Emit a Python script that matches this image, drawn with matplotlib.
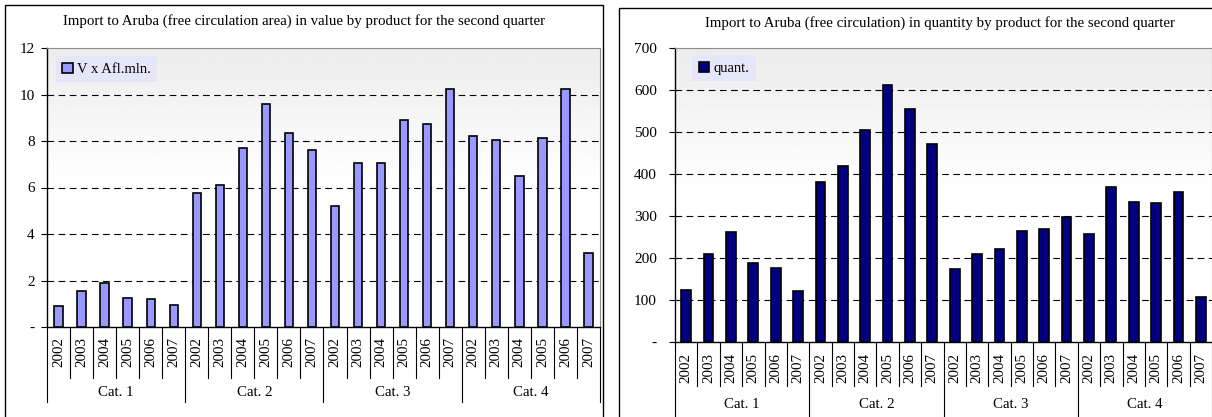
import matplotlib
matplotlib.use("Agg")
import matplotlib.pyplot as plt
import numpy as np
from matplotlib import transforms
from matplotlib.patches import Rectangle
from matplotlib.lines import Line2D

plt.rcParams['font.family'] = ['Liberation Serif', 'DejaVu Serif']

categories = ["Cat. 1", "Cat. 2", "Cat. 3", "Cat. 4"]
years = ["2002", "2003", "2004", "2005", "2006", "2007"]

# value in Afl. mln, 6 years per category
value_mln = [0.9, 1.55, 1.9, 1.25, 1.22, 0.95,
             5.75, 6.1, 7.7, 9.6, 8.35, 7.6,
             5.2, 7.05, 7.05, 8.9, 8.75, 10.25,
             8.2, 8.05, 6.5, 8.15, 10.25, 3.2]

# quantity
quantity = [125, 210, 262, 187, 177, 122,
            382, 420, 505, 613, 555, 472,
            175, 210, 222, 265, 270, 297,
            256, 368, 333, 330, 358, 106]

W, H = 1212, 417
fig = plt.figure(figsize=(W / 100, H / 100), dpi=100)


def px_box(x0, y0, x1, y1):
    # pixel box (top-left origin) -> figure fraction [l, b, w, h]
    return [x0 / W, 1 - y1 / H, (x1 - x0) / W, (y1 - y0) / H]


def fy(y):
    return 1 - y / H


def panel(frame, plot, title, title_xy, values, color, label, ymax, step,
          bar_w, ypad, year_y, year_sep_end, cat_y, cat_sep_end, leg_xy):
    x0, y0, x1, y1 = frame
    fig.patches.append(Rectangle((x0 / W, fy(y1)), (x1 - x0) / W, (y1 - y0) / H,
                                 transform=fig.transFigure, fill=False,
                                 edgecolor="black", lw=1.0))
    fig.text(title_xy[0] / W, fy(title_xy[1]), title, ha="center", va="center",
             fontsize=10.7)

    ax = fig.add_axes(px_box(*plot))
    n = len(values)
    x = np.arange(n)

    # light gray to white background gradient
    grad = np.clip(np.linspace(0.925, 1.08, 200), 0, 1).reshape(-1, 1)
    ax.imshow(grad, extent=[-0.5, n - 0.5, 0, ymax], aspect="auto",
              cmap="gray", vmin=0, vmax=1, origin="upper", zorder=0)

    ticks = np.arange(0, ymax + step / 2, step)
    for t in ticks[1:-1]:
        ax.axhline(t, color="black", lw=0.8, ls=(0, (6, 4)), zorder=1)

    ax.bar(x, values, width=bar_w, color=color, edgecolor="black", lw=1.2,
           zorder=3, label=label)

    ax.set_xlim(-0.5, n - 0.5)
    ax.set_ylim(0, ymax)
    ax.set_yticks(ticks)
    ax.set_yticklabels(["-"] + [str(int(t)) for t in ticks[1:]])
    ax.tick_params(axis="y", direction="out", length=4, width=0.8,
                   labelsize=11, pad=ypad)
    ax.set_xticks([])
    for s in ["top", "right"]:
        ax.spines[s].set_color("#8c8c8c")
        ax.spines[s].set_linewidth(0.8)
    ax.spines["left"].set_linewidth(1.0)
    ax.spines["bottom"].set_linewidth(1.0)

    leg = ax.legend(loc="upper left", bbox_to_anchor=leg_xy, fontsize=10.5,
                    frameon=True, fancybox=False, handlelength=0.7,
                    handleheight=0.7, handletextpad=0.3, borderpad=0.45,
                    borderaxespad=0)
    leg.get_frame().set_facecolor("#e6e6f8")
    leg.get_frame().set_edgecolor("none")
    leg.get_frame().set_alpha(1)

    # two level category axis below the plot
    tr = transforms.blended_transform_factory(ax.transData, fig.transFigure)
    base = plot[3]
    for i in range(n):
        ax.text(i, fy(year_y), years[i % len(years)], rotation=90, ha="center",
                va="center", fontsize=10.8, transform=tr)
    for i in range(n + 1):
        end = cat_sep_end if i % len(years) == 0 else year_sep_end
        fig.lines.append(Line2D([i - 0.5, i - 0.5], [fy(base), fy(end)],
                                transform=tr, color="black", lw=0.8))
    for k, c in enumerate(categories):
        cx = k * len(years) + (len(years) - 1) / 2
        ax.text(cx, fy(cat_y), c, ha="center", va="center", fontsize=10.7,
                transform=tr)
    return ax


panel(frame=(5, 5, 603, 425), plot=(47, 48, 600, 327),
      title="Import to Aruba (free circulation area) in value by product for the second quarter",
      title_xy=(304, 21), values=value_mln, color="#9999ff", label="V x Afl.mln.",
      ymax=12, step=2, bar_w=0.36, ypad=5, year_y=352, year_sep_end=378,
      cat_y=393, cat_sep_end=402, leg_xy=(0.016, 0.971))

panel(frame=(619, 8, 1240, 425), plot=(675, 48, 1212, 342),
      title="Import to Aruba (free circulation) in quantity by product for the second quarter",
      title_xy=(940, 23), values=quantity, color="#000080", label="quant.",
      ymax=700, step=100, bar_w=0.44, ypad=9, year_y=368, year_sep_end=386,
      cat_y=405, cat_sep_end=420, leg_xy=(0.032, 0.976))

fig.savefig("out.png", dpi=100)
